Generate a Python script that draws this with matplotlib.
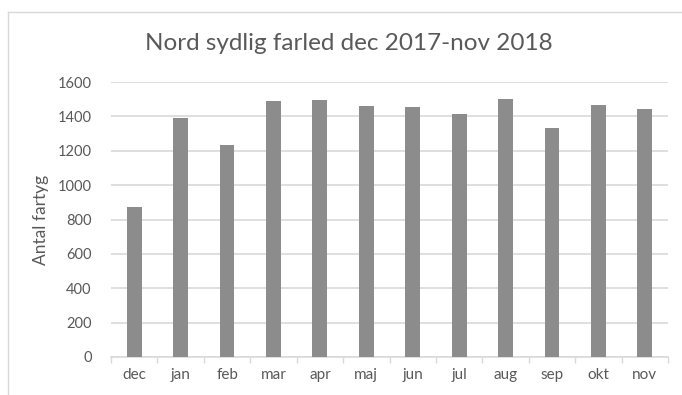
import matplotlib.pyplot as plt
from matplotlib.lines import Line2D

# Monthly ship counts, northern/southern fairway
months = ['dec', 'jan', 'feb', 'mar', 'apr', 'maj', 'jun', 'jul', 'aug', 'sep', 'okt', 'nov']
counts = [870, 1390, 1235, 1487, 1493, 1460, 1455, 1412, 1499, 1330, 1468, 1445]
y_ticks = [0, 200, 400, 600, 800, 1000, 1200, 1400, 1600]

text_color = '#595959'
grid_color = '#d9d9d9'
bar_color = '#8c8c8c'

plt.rcParams['font.family'] = ['Lato', 'DejaVu Sans']

W, H = 682, 395
fig = plt.figure(figsize=(W / 100, H / 100), dpi=100)

# plot area in pixels: left 111, right 668, top 82, bottom 357
ax = fig.add_axes([111 / W, 1 - 357 / H, (668 - 111) / W, (357 - 82) / H])

x = range(len(months))
ax.bar(x, counts, width=0.32, color=bar_color, zorder=3)

ax.set_xlim(-0.5, len(months) - 0.5)
ax.set_ylim(0, 1600)
ax.set_yticks(y_ticks)
ax.set_yticklabels([str(v) for v in y_ticks], fontsize=10.5, color=text_color)
ax.set_xticks(list(x))
ax.set_xticklabels(months, fontsize=11, color=text_color)
ax.tick_params(axis='y', length=0, pad=14)
ax.tick_params(axis='x', length=0, pad=8)

# category boundary tick marks below the axis
ax.set_xticks([i - 0.5 for i in range(len(months) + 1)], minor=True)
ax.tick_params(axis='x', which='minor', length=4, width=1, color=grid_color, direction='out')

ax.yaxis.grid(True, color=grid_color, linewidth=1.2, zorder=0)
for side in ['top', 'right', 'left']:
    ax.spines[side].set_visible(False)
ax.spines['bottom'].set_color(grid_color)
ax.spines['bottom'].set_linewidth(1.2)

ax.set_ylabel('Antal fartyg', fontsize=12.5, color=text_color, labelpad=6)

fig.text(349 / W, 1 - 44 / H, 'Nord sydlig farled dec 2017-nov 2018',
         fontsize=17.5, color=text_color, ha='center', va='center')

# chart frame (left and top edges)
fig.add_artist(Line2D([8 / W, 8 / W], [0, 1 - 12 / H], color=grid_color, linewidth=1))
fig.add_artist(Line2D([8 / W, 1], [1 - 12 / H, 1 - 12 / H], color=grid_color, linewidth=1))

fig.savefig('out.png', dpi=100)
